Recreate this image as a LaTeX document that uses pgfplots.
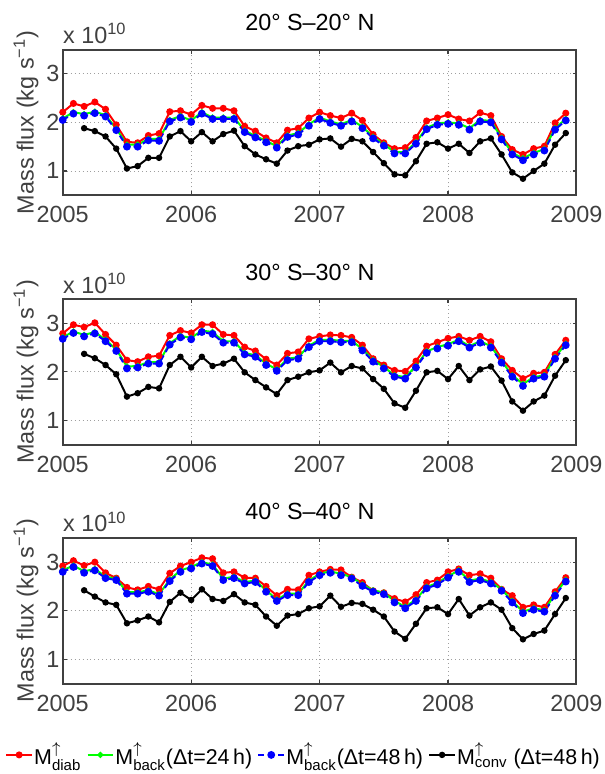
\documentclass[border=0pt]{standalone}
\usepackage{fontspec}
\setmainfont{Liberation Sans}
\usepackage{pgfplots}
\usepackage{pgfplotstable}
\pgfplotsset{compat=1.18}

\definecolor{axgray}{RGB}{64,64,64}
\newcommand{\fs}{\fontsize{11.8}{13}\selectfont}
\newcommand{\fl}{\fontsize{10.8}{12}\selectfont}

% month index i = 0..47 (Jan 2005 .. Dec 2008), values in 1e10 kg/s
\pgfplotstableread{
i red green blue black
0 2.21 2.08 2.05 nan
1 2.39 2.21 2.18 nan
2 2.33 2.17 2.14 1.88
3 2.42 2.22 2.19 1.82
4 2.27 2.15 2.12 1.71
5 1.95 1.87 1.84 1.46
6 1.60 1.54 1.50 1.05
7 1.58 1.54 1.50 1.10
8 1.73 1.66 1.63 1.27
9 1.77 1.66 1.62 1.27
10 2.22 2.05 2.02 1.71
11 2.24 2.13 2.10 1.82
12 2.16 2.04 2.01 1.61
13 2.35 2.21 2.18 1.80
14 2.29 2.10 2.07 1.61
15 2.29 2.10 2.07 1.76
16 2.24 2.10 2.07 1.83
17 1.92 1.83 1.80 1.51
18 1.82 1.72 1.69 1.34
19 1.68 1.62 1.59 1.24
20 1.58 1.51 1.48 1.15
21 1.84 1.73 1.70 1.42
22 1.88 1.78 1.75 1.51
23 2.09 1.96 1.93 1.54
24 2.21 2.10 2.07 1.65
25 2.14 2.02 1.99 1.67
26 2.09 1.96 1.93 1.50
27 2.19 2.05 2.02 1.66
28 2.04 1.91 1.88 1.61
29 1.75 1.70 1.67 1.39
30 1.58 1.55 1.52 1.16
31 1.46 1.39 1.36 0.93
32 1.48 1.39 1.36 0.91
33 1.69 1.59 1.56 1.20
34 2.03 1.89 1.86 1.56
35 2.09 1.98 1.95 1.59
36 2.16 2.00 1.97 1.46
37 2.07 1.98 1.95 1.56
38 2.03 1.88 1.85 1.37
39 2.20 2.05 2.02 1.61
40 2.14 2.03 2.00 1.67
41 1.71 1.68 1.65 1.34
42 1.44 1.37 1.34 0.97
43 1.34 1.26 1.22 0.84
44 1.46 1.37 1.34 1.00
45 1.51 1.45 1.42 1.15
46 1.99 1.88 1.85 1.54
47 2.19 2.07 2.04 1.78
}\tropics

\pgfplotstableread{
i red green blue black
0 2.79 2.71 2.68 nan
1 2.97 2.83 2.80 nan
2 2.92 2.76 2.73 2.37
3 3.01 2.82 2.79 2.28
4 2.77 2.66 2.63 2.14
5 2.55 2.46 2.43 1.95
6 2.24 2.11 2.07 1.49
7 2.21 2.12 2.09 1.56
8 2.31 2.20 2.17 1.69
9 2.33 2.20 2.17 1.66
10 2.75 2.59 2.56 2.14
11 2.85 2.74 2.71 2.31
12 2.80 2.70 2.67 2.09
13 2.97 2.85 2.82 2.31
14 2.97 2.82 2.78 2.12
15 2.77 2.63 2.60 2.17
16 2.75 2.63 2.60 2.27
17 2.51 2.39 2.36 1.99
18 2.43 2.34 2.31 1.83
19 2.26 2.17 2.14 1.68
20 2.14 2.05 2.02 1.54
21 2.38 2.27 2.24 1.83
22 2.41 2.30 2.27 1.90
23 2.68 2.54 2.51 1.99
24 2.73 2.66 2.63 2.03
25 2.76 2.66 2.63 2.19
26 2.75 2.64 2.61 1.99
27 2.71 2.64 2.61 2.12
28 2.55 2.47 2.44 2.07
29 2.27 2.24 2.21 1.85
30 2.14 2.10 2.07 1.65
31 2.03 1.93 1.90 1.35
32 2.01 1.89 1.86 1.26
33 2.22 2.12 2.09 1.61
34 2.53 2.42 2.39 1.99
35 2.61 2.51 2.48 2.02
36 2.69 2.57 2.54 1.85
37 2.73 2.66 2.63 2.12
38 2.65 2.53 2.50 1.83
39 2.73 2.63 2.60 2.05
40 2.62 2.53 2.50 2.11
41 2.27 2.22 2.19 1.82
42 2.03 1.93 1.90 1.39
43 1.86 1.75 1.71 1.20
44 1.97 1.89 1.86 1.39
45 1.99 1.93 1.90 1.51
46 2.36 2.30 2.27 1.92
47 2.65 2.58 2.55 2.24
}\subtropics

\pgfplotstableread{
i red green blue black
0 2.92 2.83 2.80 nan
1 3.03 2.93 2.90 nan
2 2.93 2.81 2.78 2.42
3 3.00 2.86 2.83 2.29
4 2.78 2.70 2.67 2.17
5 2.67 2.66 2.63 2.12
6 2.48 2.38 2.35 1.74
7 2.43 2.38 2.35 1.80
8 2.50 2.42 2.39 1.88
9 2.44 2.34 2.31 1.76
10 2.77 2.64 2.61 2.18
11 2.92 2.83 2.80 2.37
12 3.00 2.90 2.87 2.22
13 3.09 3.00 2.97 2.44
14 3.07 2.95 2.92 2.24
15 2.78 2.66 2.63 2.20
16 2.80 2.70 2.67 2.34
17 2.68 2.59 2.56 2.17
18 2.67 2.62 2.59 2.12
19 2.50 2.42 2.39 1.88
20 2.31 2.23 2.20 1.69
21 2.44 2.35 2.32 1.90
22 2.43 2.35 2.32 1.93
23 2.73 2.62 2.59 2.05
24 2.80 2.76 2.73 2.09
25 2.85 2.81 2.78 2.31
26 2.84 2.76 2.73 2.08
27 2.69 2.69 2.66 2.16
28 2.58 2.54 2.51 2.14
29 2.41 2.42 2.39 2.02
30 2.37 2.37 2.34 1.88
31 2.25 2.20 2.17 1.57
32 2.18 2.08 2.05 1.42
33 2.33 2.23 2.20 1.73
34 2.58 2.49 2.46 2.05
35 2.63 2.57 2.54 2.07
36 2.80 2.71 2.68 1.93
37 2.86 2.83 2.80 2.24
38 2.73 2.62 2.59 1.90
39 2.76 2.66 2.63 2.07
40 2.67 2.59 2.56 2.17
41 2.44 2.44 2.41 2.02
42 2.31 2.20 2.17 1.64
43 2.07 1.98 1.95 1.41
44 2.12 2.05 2.02 1.52
45 2.07 2.01 1.98 1.59
46 2.39 2.34 2.31 1.93
47 2.68 2.63 2.60 2.26
}\extratropics

\pgfplotsset{
  panel/.style={
    width=259.2pt,height=73.5pt,scale only axis,
    anchor=north west,
    xmin=0,xmax=48,ymin=0.5,ymax=3.5,
    xtick={0,12,24,36,48},
    xticklabels={2005,2006,2007,2008,2009},
    ytick={1,2,3},
    scaled ticks=false,
    /pgf/number format/assume math mode=true,
    tick align=inside,
    major tick length=2pt,
    axis line style={axgray,line width=1pt},
    tick style={axgray,line width=0.6pt},
    grid=major,
    major grid style={gray!75,line width=0.4pt,dash pattern=on 0.5pt off 1.5pt},
    tick label style={font=\fs,text=axgray},
    xticklabel style={yshift=-2.2pt},
    yticklabel style={xshift=1.8pt},
    ylabel={Mass flux (kg s\textsuperscript{−1})},
    ylabel style={font=\fs,text=axgray,at={(axis description cs:-0.0714,0.5)},anchor=center},
    title style={font=\fs,at={(axis description cs:0.5,1)},anchor=base,yshift=3.5pt,xshift=-4.9pt},
    clip=false,
  },
  sred/.style={red,line width=1pt,mark=*,mark size=1.25pt,mark options={solid,fill=red,draw=red}},
  sgreen/.style={green,line width=1pt,mark=*,mark size=1.0pt,mark options={solid,fill=green,draw=green}},
  sblue/.style={blue,line width=1pt,dash pattern=on 3pt off 2pt,mark=*,mark size=1.45pt,mark options={solid,fill=blue,draw=blue}},
  sblack/.style={black,line width=1pt,mark=*,mark size=1.1pt,mark options={solid,fill=black,draw=black}},
}

\newcommand{\scalelabel}{\node[font=\fs,text=axgray,anchor=base west,inner sep=0pt]
  at (rel axis cs:0,1) [yshift=3pt] {x 10\textsuperscript{10}};}

\begin{document}
\begin{tikzpicture}
\begin{axis}[panel,at={(0,0)},title={20° S–20° N}]
\addplot[sred] table[x=i,y=red] {\tropics};
\addplot[sgreen] table[x=i,y=green] {\tropics};
\addplot[sblue] table[x=i,y=blue] {\tropics};
\addplot[sblack] table[x=i,y=black] {\tropics};
\scalelabel
\end{axis}

\begin{axis}[panel,at={(0,-125.85pt)},title={30° S–30° N}]
\addplot[sred] table[x=i,y=red] {\subtropics};
\addplot[sgreen] table[x=i,y=green] {\subtropics};
\addplot[sblue] table[x=i,y=blue] {\subtropics};
\addplot[sblack] table[x=i,y=black] {\subtropics};
\scalelabel
\end{axis}

\begin{axis}[panel,at={(0,-246.35pt)},title={40° S–40° N},
  legend columns=4,
  legend style={draw=none,fill=none,font=\fl,at={(axis description cs:0.468,-0.49)},anchor=center,
    /tikz/every even column/.append style={column sep=2pt},
    /tikz/every odd column/.append style={column sep=0pt},
    nodes={inner sep=0.6pt}},
  legend image code/.code={
    \draw[#1,mark repeat=2,mark phase=2] plot coordinates {(0pt,0pt) (6.5pt,0pt) (13pt,0pt)};}
]
\addplot[sred] table[x=i,y=red] {\extratropics};
\addlegendentry{M$^{\uparrow}_{\mathrm{diab}}$}
\addplot[sgreen] table[x=i,y=green] {\extratropics};
\addlegendentry{M$^{\uparrow}_{\mathrm{back}}$(Δt=24\,h)}
\addplot[sblue] table[x=i,y=blue] {\extratropics};
\addlegendentry{M$^{\uparrow}_{\mathrm{back}}$(Δt=48\,h)}
\addplot[sblack] table[x=i,y=black] {\extratropics};
\addlegendentry{M$^{\uparrow}_{\mathrm{conv}}$ (Δt=48\,h)}
\scalelabel
\end{axis}

\pgfresetboundingbox
\useasboundingbox (-31.65pt,25pt) rectangle (273.35pt,-365.5pt);
\end{tikzpicture}
\end{document}
